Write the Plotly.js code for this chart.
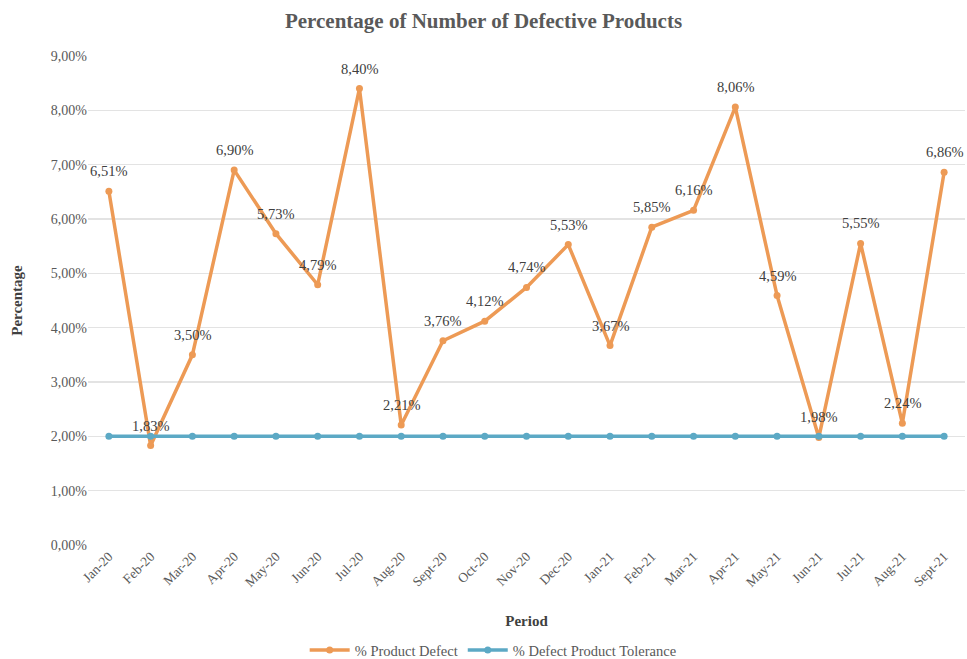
<!DOCTYPE html>
<html><head><meta charset="utf-8">
<script src="https://cdn.plot.ly/plotly-3.0.1.min.js"></script>
<style>html,body{margin:0;padding:0;background:#fff}#chart{width:967px;height:659px}</style>
</head><body><div id="chart"></div>
<script>
const periods = ["Jan-20","Feb-20","Mar-20","Apr-20","May-20","Jun-20","Jul-20","Aug-20","Sept-20","Oct-20","Nov-20","Dec-20","Jan-21","Feb-21","Mar-21","Apr-21","May-21","Jun-21","Jul-21","Aug-21","Sept-21"];
const productDefect = [0.0651,0.0183,0.0350,0.0690,0.0573,0.0479,0.0840,0.0221,0.0376,0.0412,0.0474,0.0553,0.0367,0.0585,0.0616,0.0806,0.0459,0.0198,0.0555,0.0224,0.0686];
const tolerance = [0.02,0.02,0.02,0.02,0.02,0.02,0.02,0.02,0.02,0.02,0.02,0.02,0.02,0.02,0.02,0.02,0.02,0.02,0.02,0.02,0.02];

const orange = "#ED9A55", blue = "#5CA9C5";
const serif = "Times New Roman";
const data = [
  {x: periods, y: productDefect, name: "% Product Defect", type: "scatter", mode: "lines+markers",
   line: {color: orange, width: 3.5}, marker: {color: orange, size: 7}},
  {x: periods, y: tolerance, name: "% Defect Product Tolerance", type: "scatter", mode: "lines+markers",
   line: {color: blue, width: 3.5}, marker: {color: blue, size: 7}}
];
const fmt = v => (v * 100).toFixed(2).replace(".", ",") + "%";
const annotations = periods.map((p, i) => ({
  x: p, y: productDefect[i], xref: "x", yref: "y", text: fmt(productDefect[i]),
  showarrow: false, yanchor: "bottom", yshift: 10,
  font: {family: serif, size: 14.5, color: "#404040"}
}));
const layout = {
  width: 967, height: 659,
  margin: {l: 88, r: 2, t: 56, b: 114, autoexpand: false},
  separators: ",.",
  paper_bgcolor: "#fff", plot_bgcolor: "#fff",
  font: {family: serif, color: "#595959", size: 13},
  title: {text: "<b>Percentage of Number of Defective Products</b>", x: 0.5, xanchor: "center", y: 0.968, yanchor: "middle",
          font: {family: serif, size: 21, color: "#595959"}},
  xaxis: {type: "category", range: [-0.5, 20.5], tickangle: -45, showgrid: false, zeroline: false, showline: false,
          ticks: "", tickfont: {family: serif, size: 13.5, color: "#595959"}, automargin: false,
          title: {text: "<b>Period</b>", font: {family: serif, size: 15, color: "#404040"}, standoff: 26}},
  yaxis: {range: [0, 0.09], dtick: 0.01, tickformat: ".2%", showgrid: true, gridcolor: "#E3E3E3", gridwidth: 1.5,
          zeroline: false, showline: false, ticks: "", tickfont: {family: serif, size: 14, color: "#595959"}, automargin: false,
          title: {text: "<b>Percentage</b>", font: {family: serif, size: 15, color: "#404040"}, standoff: 24}},
  annotations: annotations,
  showlegend: true,
  legend: {orientation: "h", x: 0.462, xanchor: "center", y: -0.182, yanchor: "top",
           font: {family: serif, size: 14.5, color: "#595959"}, itemwidth: 40}
};
Plotly.newPlot("chart", data, layout, {displayModeBar: false, staticPlot: true});
</script></body></html>
